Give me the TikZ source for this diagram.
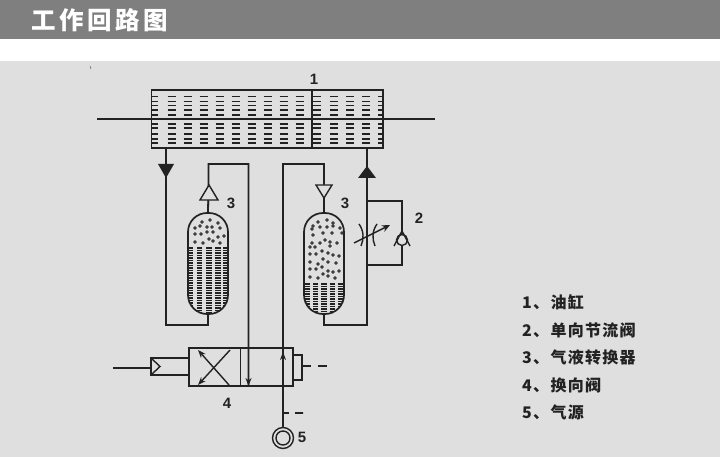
\documentclass[tikz,border=0pt]{standalone}
\usepackage{fontspec}
\usetikzlibrary{arrows.meta}
\newfontfamily\cjk[LetterSpace=8]{Noto Sans CJK SC}
\newfontfamily\cjktitle[LetterSpace=15]{Noto Sans CJK SC}
\newfontfamily\numf{Liberation Sans}
\definecolor{band}{HTML}{807F7F}
\definecolor{paper}{HTML}{DFDFDF}
\definecolor{ink}{HTML}{222222}
\tikzset{
  pipe/.style={draw=ink,line width=1.4pt},
  pipethin/.style={draw=ink,line width=1.8pt},
  heavy/.style={draw=ink,line width=1.9pt},
  tag/.style={font=\numf\bfseries\fontsize{15}{15}\selectfont,text=ink,inner sep=0pt},
  legendrow/.style={font=\cjk\bfseries\fontsize{16}{16}\selectfont,text=ink,inner sep=0pt,anchor=west},
  vessel/.style={draw=ink,line width=1.7pt,rounded corners=19pt,minimum width=40pt,minimum height=101pt,inner sep=0pt},
  smallarrow/.style={-{Stealth[length=8pt,width=6pt]},pipe},
}
\begin{document}
\begin{tikzpicture}[x=1pt,y=-1pt]
\useasboundingbox (0,0) rectangle (720,457);
\fill[band] (0,0) rectangle (720,39);
\fill[white] (0,39) rectangle (720,61);
\fill[paper] (0,61) rectangle (720,457);
\node[text=white,inner sep=0pt,anchor=west,font=\cjktitle\bfseries\fontsize{24.5}{25}\selectfont] (title) at (31,20) {工作回路图};
\draw[ink!70,line width=.5pt] (90,66) -- (91,69);
% oil cylinder
\node[heavy,minimum width=231.5pt,minimum height=58pt,inner sep=0pt] (cyl) at (267.25,119) {};
\foreach \y/\w in {96.5/.7,101.5/.8,106/1,110/1.2,115/1.5,124/1.2,128/1.3,134/1.5,139/1.7,143/1.8}{
  \foreach \x in {171.5,187.5,203.5,219.5,235.5,251.5,267.5,283.5,299.5,317,334,350,366}
    \draw[ink,line width=\w pt] (\x-4,\y) -- (\x+4,\y);
  \draw[ink,line width=\w pt] (152,\y) -- (158,\y);
  \draw[ink,line width=\w pt] (378,\y) -- (383,\y);
}
\coordinate (rodl) at (97,119);
\coordinate (rodr) at (435,119);
\coordinate (split) at (312,90);
\draw[pipe] (rodl) -- (rodr);
\draw[heavy] (split) -- (split|-cyl.south);
\node[tag] (lab1) at (314,79) {1};
% gas-liquid converters
\node[vessel] (accl) at (208,263.5) {};
\node[vessel] (accr) at (324,263.5) {};
\begin{scope}
  \clip[rounded corners=19pt] (188,213) rectangle (228,314);
  \foreach \x in {190.5,199.5,209,218,226}
    \draw[ink,line width=5.5pt,dash pattern=on 1.6pt off .9pt] (\x,247) -- (\x,314);
\end{scope}
\begin{scope}
  \clip[rounded corners=19pt] (304,213) rectangle (344,314);
  \foreach \x in {307,315.5,324,332.5,341}
    \draw[ink,line width=5.5pt,dash pattern=on 1.6pt off .9pt] (\x,283) -- (\x,314);
\end{scope}
\foreach \x/\y in {202/222,210/220,218/223,200/226,207/227,212/227,220/228,195/228,195/234,201/234,207/232,213/232,218/237,224/236,209/239,213/241,220/243,195/242,203/243,
  318/222,327/220,333/223,313/226,320/227,327/227,333/226,340/228,312/229,323/233,332/233,342/233,313/235,325/240,330/242,337/243,312/243,320/243,310/247,315/247,330/246,322/251,328/253,310/254,316/254,333/255,339/256,323/259,328/262,336/263,310/262,318/264,322/267,310/269,316/269,328/271,333/272,339/271,323/274,328/276,335/278,310/277,318/278}
  \draw[ink,fill=ink!55,line width=.7pt] (\x,\y) circle (1.4pt);
\node[tag] (lab3a) at (231,203) {3};
\node[tag] (lab3b) at (345,203) {3};
% left circuit
\coordinate (ploop) at (166,325);
\coordinate (tril) at (166,164);
\draw[pipe] (ploop|-cyl.south) -- (ploop) -- (ploop-|accl.south) -- (accl.south);
\fill[ink] (158,164) -- (174,164) -- (166,178) -- cycle;
\coordinate (pa) at (208.5,164);
\coordinate (pb) at (248.5,164);
\coordinate (pc) at (248.5,386);
\draw[pipethin] (accl.north) -- (208.5,185) -- (pa) -- (pb) -- (pb|-pc);
\draw[pipe,fill=paper] (200,200) -- (218,200) -- (209,185) -- cycle;
\draw[pipe] (accl.north) -- (208.5,200);
% right circuit
\coordinate (pd) at (283,164);
\coordinate (pe) at (324,164);
\coordinate (source) at (283,438);
\draw[pipethin] (source) -- (pd) -- (pe) -- (accr.north);
\draw[pipe,fill=paper] (316,185) -- (332,185) -- (324,198) -- cycle;
\coordinate (pf) at (367,325);
\draw[pipe] (accr.south) -- (accr.south|-pf) -- (pf) -- (pf|-cyl.south);
\fill[ink] (358,178) -- (376,178) -- (367,166) -- cycle;
% throttle with check valve
\coordinate (pg) at (402,201);
\coordinate (ph) at (402,265);
\draw[pipethin,line width=2pt] (pf|-pg) -- (pg) -- (ph) -- (pf|-ph);
\node[pipe,circle,fill=paper,minimum size=11pt,inner sep=0pt] (ball) at (402,240) {};
\draw[pipe] (394,246) -- (402,231) -- (410,246);
\draw[pipe] (359,224) .. controls (364,231) and (364,239) .. (361,246);
\draw[pipe] (377,224) .. controls (372,231) and (372,239) .. (375,246);
\coordinate (ta) at (354,243);
\coordinate (tb) at (390,225);
\draw[-{Stealth[length=8pt,width=7pt]},pipe] (ta) -- (tb);
\node[tag] (lab2) at (419,218) {2};
% reversing valve
\node[heavy,minimum width=104pt,minimum height=38pt,inner sep=0pt] (valve) at (241,367) {};
\coordinate (vdiv) at (240.5,348);
\draw[heavy] (vdiv) -- (vdiv|-valve.south);
\coordinate (xa) at (198,350);
\coordinate (xb) at (229,385);
\coordinate (xc) at (230,350);
\coordinate (xd) at (198,385);
\draw[smallarrow,{Stealth[length=8pt,width=6pt]}-] (xa) -- (xb);
\draw[smallarrow] (xc) -- (xd);
\draw[smallarrow,shorten >=1pt] (pb|-valve.north) -- (pb|-valve.south);
\draw[-{Stealth[length=8pt,width=6pt]},draw=ink,line width=1.4pt] (283,376) -- (283,352);
\node[draw=ink,line width=1.6pt,minimum width=38pt,minimum height=17pt,inner sep=0pt] (pilot) at (170,366.5) {};
\coordinate (pin) at (113,368);
\draw[heavy] (pin) -- (pilot.west|-pin);
\draw[pipe] (151,358) -- (160,366.5) -- (151,375);
\node[draw=ink,line width=1.6pt,minimum width=9pt,minimum height=25pt,inner sep=0pt] (spring) at (297.5,367.5) {};
\coordinate (da) at (302,366);
\coordinate (db) at (327,366);
\draw[pipe,dash pattern=on 9pt off 7pt on 9pt off 0pt] (da) -- (db);
\node[tag] (lab4) at (227,403) {4};
% air source
\node[circle,draw=ink,line width=1.4pt,fill=paper,minimum size=21pt,inner sep=0pt] (src) at (source) {};
\node[circle,draw=ink,line width=1.4pt,minimum size=14pt,inner sep=0pt] (srcin) at (source) {};
\coordinate (dc) at (283,413);
\coordinate (dd) at (303,413);
\draw[pipe,dash pattern=on 6pt off 6pt on 8pt off 0pt] (dc) -- (dd);
\node[tag] (lab5) at (302,437) {5};
% legend
\node[legendrow] (leg1) at (522,302) {1、油缸};
\node[legendrow] (leg2) at (522,330) {2、单向节流阀};
\node[legendrow] (leg3) at (522,357.5) {3、气液转换器};
\node[legendrow] (leg4) at (522,385) {4、换向阀};
\node[legendrow] (leg5) at (522,412.5) {5、气源};
\end{tikzpicture}
\end{document}
